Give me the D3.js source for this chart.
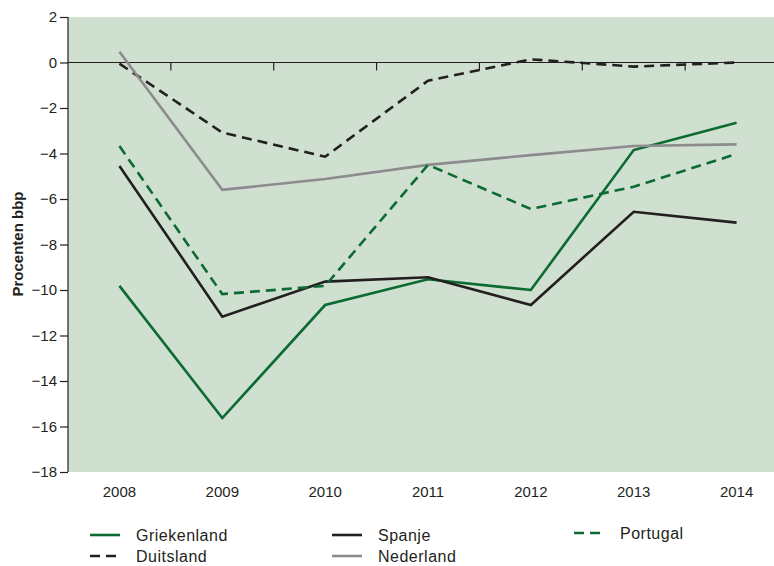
<!DOCTYPE html>
<meta charset="utf-8">
<style>
body { margin: 0; background: #fff; }
svg text { font-family: "Liberation Sans", Arial, sans-serif; fill: #231f20; }
.tick text { font-size: 15px; }
.legend text { font-size: 16px; letter-spacing: 0.5px; }
</style>
<svg width="774" height="566"></svg>
<script src="https://cdnjs.cloudflare.com/ajax/libs/d3/7.8.5/d3.min.js"></script>
<script>
var years = ["2008", "2009", "2010", "2011", "2012", "2013", "2014"];
var yTicks = [2, 0, -2, -4, -6, -8, -10, -12, -14, -16, -18];

var griekenland = [-9.82, -15.63, -10.66, -9.53, -10.0, -3.85, -2.65];
var duitsland   = [-0.05, -3.08, -4.14, -0.8, 0.14, -0.18, 0.0];
var spanje      = [-4.55, -11.17, -9.63, -9.44, -10.66, -6.56, -7.04];
var nederland   = [0.47, -5.6, -5.12, -4.5, -4.07, -3.67, -3.6];
var portugal    = [-3.67, -10.18, -9.82, -4.5, -6.44, -5.46, -4.02];

var green = "#0b6b30", black = "#231f20", grey = "#8c8c8e";

var series = [
  {name: "Griekenland", values: griekenland, color: green, dash: null},
  {name: "Duitsland", values: duitsland, color: black, dash: "10,6"},
  {name: "Spanje", values: spanje, color: black, dash: null},
  {name: "Nederland", values: nederland, color: grey, dash: null},
  {name: "Portugal", values: portugal, color: green, dash: "10,6"}
];

var svg = d3.select("svg"),
    plotLeft = 68, plotTop = 17, plotBottom = 472, plotRight = 774;

var x = d3.scaleBand().domain(years).range([plotLeft, 788]);
var y = d3.scaleLinear().domain([-18, 2]).range([plotBottom, plotTop]);

svg.append("rect")
    .attr("x", plotLeft).attr("y", plotTop)
    .attr("width", plotRight - plotLeft).attr("height", plotBottom - plotTop)
    .attr("fill", "#cfdfd0");

// y axis
var yAxis = svg.append("g")
    .attr("transform", "translate(" + plotLeft + ",0)")
    .call(d3.axisLeft(y).tickValues(yTicks).tickSize(8).tickPadding(3)
      .tickFormat(function(d) { return d < 0 ? "\u2212" + Math.abs(d) : d; }));
yAxis.select(".domain").attr("stroke", "#231f20").attr("stroke-width", 1.2).attr("d", "M0," + plotTop + "V" + plotBottom);
yAxis.selectAll(".tick line").attr("stroke", "#231f20").attr("stroke-width", 1.2);
yAxis.selectAll(".tick text").attr("fill", "#231f20");

// zero line with boundary ticks
svg.append("line")
    .attr("x1", plotLeft).attr("x2", plotRight)
    .attr("y1", y(0)).attr("y2", y(0))
    .attr("stroke", "#231f20").attr("stroke-width", 1.2);
svg.append("g").selectAll("line")
    .data(years.slice(1))
    .join("line")
    .attr("x1", function(d) { return x(d); })
    .attr("x2", function(d) { return x(d); })
    .attr("y1", y(0)).attr("y2", y(0) + 8)
    .attr("stroke", "#231f20").attr("stroke-width", 1.2);

// x labels
var xAxis = svg.append("g")
    .attr("transform", "translate(0," + plotBottom + ")")
    .call(d3.axisBottom(x).tickSize(0).tickPadding(14));
xAxis.select(".domain").remove();
xAxis.selectAll(".tick text").attr("fill", "#231f20");

svg.append("text")
    .attr("transform", "translate(23," + 244 + ") rotate(-90)")
    .attr("text-anchor", "middle")
    .style("font-size", "15px")
    .style("font-weight", "bold")
    .text("Procenten bbp");

var line = d3.line()
    .x(function(d, i) { return x(years[i]) + x.bandwidth() / 2; })
    .y(function(d) { return y(d); });

svg.append("g").selectAll("path")
    .data(series)
    .join("path")
    .attr("d", function(d) { return line(d.values); })
    .attr("fill", "none")
    .attr("stroke", function(d) { return d.color; })
    .attr("stroke-width", 2.6)
    .attr("stroke-dasharray", function(d) { return d.dash; });

// legend
var legendPos = [[90, 535], [90, 556], [332, 535], [332, 556], [574, 533]];
var legend = svg.append("g").attr("class", "legend").selectAll("g")
    .data(series)
    .join("g")
    .attr("transform", function(d, i) { return "translate(" + legendPos[i][0] + "," + legendPos[i][1] + ")"; });
legend.append("line")
    .attr("x1", 0).attr("x2", 30)
    .attr("stroke", function(d) { return d.color; })
    .attr("stroke-width", 2.6)
    .attr("stroke-dasharray", function(d) { return d.dash; });
legend.append("text")
    .attr("x", 46).attr("dy", "0.35em")
    .text(function(d) { return d.name; });
</script>
